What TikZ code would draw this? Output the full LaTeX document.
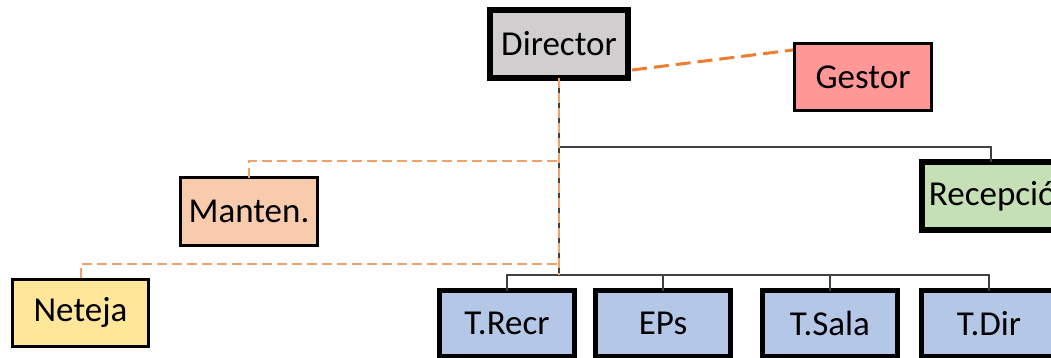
\documentclass[tikz,border=0pt]{standalone}
\usepackage{fontspec}
\setmainfont{Carlito}
\definecolor{dirfill}{HTML}{D0CECE}
\definecolor{gestfill}{HTML}{FF9797}
\definecolor{mantfill}{HTML}{F8CBAD}
\definecolor{netfill}{HTML}{FFE699}
\definecolor{recfill}{HTML}{C5E0B4}
\definecolor{bluefill}{HTML}{B4C7E7}
\definecolor{orangeA}{HTML}{ED7D31}
\definecolor{orangeB}{HTML}{F2A16B}
\definecolor{lineC}{HTML}{404040}
\begin{document}
\begin{tikzpicture}[x=1pt,y=-1pt,
  box/.style={draw=black,inner sep=0pt,outer sep=0pt,font=\fontsize{35}{40}\selectfont,text=black},
  thick6/.style={box,line width=6pt,minimum width=138pt,minimum height=68pt},
  thin3/.style={box,line width=3pt,minimum width=137pt,minimum height=67pt},
  blue5/.style={box,line width=5pt,fill=bluefill,minimum width=135pt,minimum height=66pt},
  tree/.style={draw=lineC,line width=1.3pt},
  odash/.style={draw=orangeB,line width=2pt,dash pattern=on 10pt off 5pt},
  gdash/.style={draw=orangeA,line width=3pt,dash pattern=on 15pt off 7pt}]
\useasboundingbox (0,0) rectangle (1051,358);
\clip (0,0) rectangle (1051,358);
% nodes
\node[thick6,fill=dirfill] (dir) at (559,44) {Director};
\node[thin3,fill=gestfill] (gest) at (863,77) {Gestor};
\node[thick6,fill=recfill,minimum width=160pt] (rec) at (1002,196) {Recepción};
\node[thin3,fill=mantfill] (mant) at (249,211.5) {Manten.};
\node[thin3,fill=netfill,minimum width=136pt] (net) at (80.5,312.5) {Neteja};
\node[blue5] (trecr) at (507,323.5) {T.Recr};
\node[blue5] (eps) at (663,323.5) {EPs};
\node[blue5] (tsala) at (830,323.5) {T.Sala};
\node[blue5] (tdir) at (989,323.5) {T.Dir};
% coordinates
\coordinate (bus) at (559,275);
\coordinate (recj) at (559,147);
\coordinate (mj) at (557,161);
\coordinate (nj) at (557,264);
\coordinate (g1) at (632,70);
\coordinate (g2) at (793,50);
% black tree
\draw[tree] (dir.south) -- (bus);
\draw[tree] (recj) -| ([xshift=69pt]rec.north west);
\draw[tree] (bus) -| (trecr.north);
\draw[tree] (bus) -| (eps.north);
\draw[tree] (bus) -| (tsala.north);
\draw[tree] (bus) -| (tdir.north);
% orange dashed
\draw[odash] (dir.south) -- (bus);
\draw[odash] (mj) -| (mant.north);
\draw[odash] (nj) -| (net.north);
\draw[gdash] (g1) -- (g2);
\end{tikzpicture}
\end{document}
